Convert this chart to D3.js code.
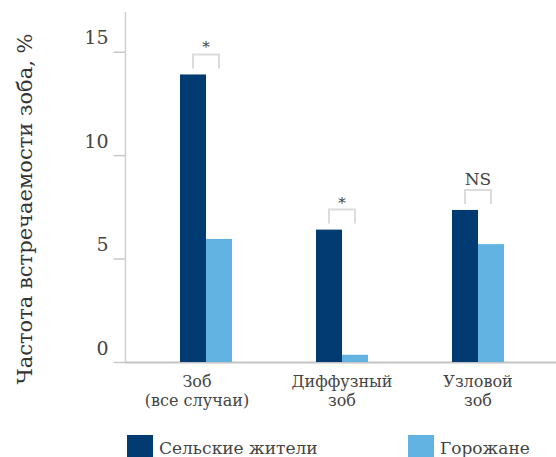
<!DOCTYPE html>
<html>
<head>
<meta charset="utf-8">
<script src="https://cdn.jsdelivr.net/npm/d3@7"></script>
<style>
  html, body { margin: 0; padding: 0; background: #fff; }
  svg { display: block; font-family: "DejaVu Serif", serif; }
</style>
</head>
<body>
<svg id="chart" width="556" height="457"></svg>
<script>
// Categories (two-line labels) and series
const categories = ["Зоб|(все случаи)", "Диффузный|зоб", "Узловой|зоб"];
const seriesNames = ["Сельские жители", "Горожане"];
const ruralValues = [13.9, 6.4, 7.35];
const urbanValues = [5.95, 0.35, 5.7];
const significance = ["*", "*", "NS"];
const yTicks = [0, 5, 10, 15];
const colors = ["#013b72", "#63b3e2"];

const svg = d3.select("#chart");

const y = d3.scaleLinear().domain([0, 15]).range([362, 51.7]);
const x0 = d3.scaleBand().domain(categories).range([138, 546])
  .paddingInner(0.6176).paddingOuter(0.3088);
const x1 = d3.scaleBand().domain(seriesNames).range([0, x0.bandwidth()]);

// Y axis
const yAxis = svg.append("g").attr("transform", "translate(125.5,0)")
  .call(d3.axisLeft(y).tickValues(yTicks).tickSize(12).tickPadding(5).tickFormat(d3.format("d")));
yAxis.select(".domain").remove();
yAxis.selectAll(".tick line").attr("stroke", "#c8c8c8").attr("stroke-width", 1.5);
yAxis.selectAll(".tick text")
  .attr("dy", "-0.42em")
  .attr("fill", "#444")
  .style("font-size", "19px")
  .style("font-family", "DejaVu Serif, serif");

// axis lines
svg.append("line").attr("x1", 125.5).attr("x2", 125.5).attr("y1", 12).attr("y2", 362)
  .attr("stroke", "#cfcfcf").attr("stroke-width", 1.5);
svg.append("line").attr("x1", 125).attr("x2", 556).attr("y1", 362.5).attr("y2", 362.5)
  .attr("stroke", "#c4c4c4").attr("stroke-width", 2);

// Bars
const rows = categories.map((c, i) => ({ cat: c, vals: [ruralValues[i], urbanValues[i]], sig: significance[i] }));
const groups = svg.append("g").selectAll("g").data(rows).join("g")
  .attr("transform", d => `translate(${x0(d.cat)},0)`);
groups.selectAll("rect").data(d => d.vals.map((v, j) => ({ name: seriesNames[j], v, j })))
  .join("rect")
  .attr("x", d => x1(d.name))
  .attr("width", x1.bandwidth())
  .attr("y", d => y(d.v))
  .attr("height", d => y(0) - y(d.v))
  .attr("fill", d => colors[d.j]);

// Significance brackets
groups.each(function(d) {
  const g = d3.select(this);
  const xa = x1(seriesNames[0]) + x1.bandwidth() / 2;
  const xb = x1(seriesNames[1]) + x1.bandwidth() / 2;
  const top = y(d3.max(d.vals));
  const yb = top - 6;
  const yt = top - 20;
  g.append("path")
    .attr("d", `M${xa},${yb}V${yt}H${xb}V${yb}`)
    .attr("fill", "none").attr("stroke", "#dcdcdc").attr("stroke-width", 2);
  const isStar = d.sig === "*";
  g.append("text")
    .attr("x", (xa + xb) / 2)
    .attr("y", isStar ? yt - 2 : yt - 5)
    .attr("text-anchor", "middle")
    .attr("fill", "#444")
    .style("font-size", isStar ? "15px" : "17px")
    .text(d.sig);
});

// Category labels, one text per line
const catLabels = svg.append("g").selectAll("g").data(categories).join("g")
  .attr("transform", (d, i) => `translate(${x0(d) + x0.bandwidth() / 2 + (i === 0 ? -9 : 0)},0)`);
catLabels.selectAll("text").data(d => d.split("|")).join("text")
  .attr("text-anchor", "middle")
  .attr("fill", "#444")
  .style("font-size", "16px")
  .attr("y", (d, i) => 386.5 + i * 19)
  .text(d => d);

// Y axis title
svg.append("text")
  .attr("transform", "translate(32,209) rotate(-90)")
  .attr("text-anchor", "middle")
  .attr("fill", "#333")
  .style("font-size", "21px")
  .text("Частота встречаемости зоба, %");

// Legend
const legendX = [127, 408];
const legend = svg.append("g").selectAll("g").data(seriesNames).join("g")
  .attr("transform", (d, i) => `translate(${legendX[i]},435)`);
legend.append("rect").attr("width", 26).attr("height", 26).attr("fill", (d, i) => colors[i]);
legend.append("text").attr("x", 32).attr("y", 19).attr("fill", "#444")
  .style("font-size", "17px").text(d => d);
</script>
</body>
</html>
